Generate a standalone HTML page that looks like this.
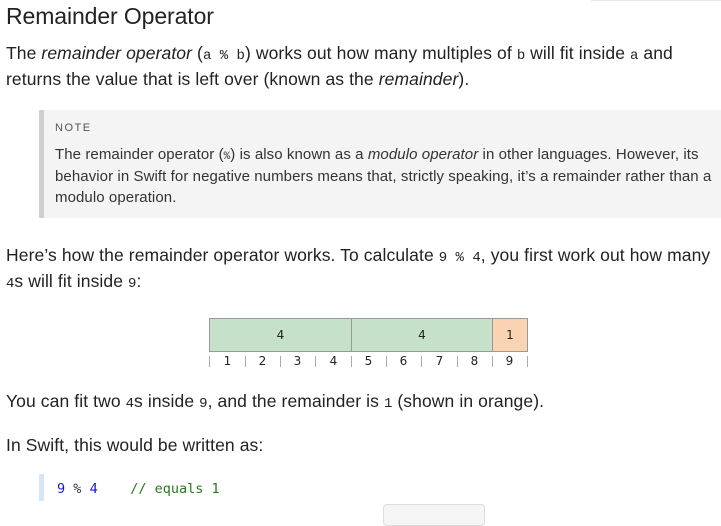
<!DOCTYPE html>
<html><head><meta charset="utf-8"><style>
body{margin:0;width:721px;height:512px;background:#fff;position:relative;overflow:hidden;font-family:"Liberation Sans",sans-serif;color:#222}
.l{position:absolute;white-space:nowrap;font-size:17.5px;letter-spacing:0.1px}
.n{position:absolute;white-space:nowrap;font-size:15px;letter-spacing:0.08px;color:#333}
code{font-family:"Liberation Mono",monospace;font-size:14px;letter-spacing:0}
.cell{position:absolute;top:318px;height:34px;box-sizing:border-box;border:1px solid #999;text-align:center;line-height:32px;font-size:12px;font-family:"DejaVu Sans",sans-serif}
.num{position:absolute;top:354px;font-size:12px;font-family:"DejaVu Sans",sans-serif;width:35px;text-align:center}
.tk{position:absolute;top:356px;width:1px;height:11px;background:#aaa}
</style></head><body>
<div style="position:absolute;left:591px;top:0;width:130px;height:1px;background:#e6e6e6"></div>
<div class="l" style="left:6px;top:3px;font-size:23px;letter-spacing:-0.1px">Remainder Operator</div>
<div class="l" style="left:6px;top:43px">The <i>remainder operator</i> (<code>a % b</code>) works out how many multiples of <code>b</code> will fit inside <code>a</code> and</div>
<div class="l" style="left:6px;top:69px">returns the value that is left over (known as the <i>remainder</i>).</div>
<div style="position:absolute;left:39px;top:110px;width:682px;height:108px;background:#f4f4f4;border-left:5px solid #cfcfcf;box-sizing:border-box"></div>
<div class="n" style="left:55px;top:122px;font-size:11px;letter-spacing:1.5px;color:#555">NOTE</div>
<div class="n" style="left:55px;top:146px">The remainder operator (<code style="font-size:11px">%</code>) is also known as a <i>modulo operator</i> in other languages. However, its</div>
<div class="n" style="left:55px;top:168px">behavior in Swift for negative numbers means that, strictly speaking, it’s a remainder rather than a</div>
<div class="n" style="left:55px;top:189px">modulo operation.</div>
<div class="l" style="left:6px;top:245px">Here’s how the remainder operator works. To calculate <code>9 % 4</code>, you first work out how many</div>
<div class="l" style="left:6px;top:271px"><code>4</code>s will fit inside <code>9</code>:</div>
<div class="cell" style="left:209px;width:143px;background:#c5e1c9">4</div>
<div class="cell" style="left:351px;width:142px;background:#c5e1c9">4</div>
<div class="cell" style="left:492px;width:36px;background:#fad4b2">1</div>
<div class="tk" style="left:209px"></div><div class="tk" style="left:245px"></div><div class="tk" style="left:280px"></div><div class="tk" style="left:315px"></div><div class="tk" style="left:351px"></div><div class="tk" style="left:386px"></div><div class="tk" style="left:421px"></div><div class="tk" style="left:457px"></div><div class="tk" style="left:492px"></div><div class="tk" style="left:527px"></div>
<div class="num" style="left:210px">1</div><div class="num" style="left:245px">2</div><div class="num" style="left:280px">3</div><div class="num" style="left:316px">4</div><div class="num" style="left:351px">5</div><div class="num" style="left:386px">6</div><div class="num" style="left:422px">7</div><div class="num" style="left:457px">8</div><div class="num" style="left:492px">9</div>
<div class="l" style="left:6px;top:391px">You can fit two <code>4</code>s inside <code>9</code>, and the remainder is <code>1</code> (shown in orange).</div>
<div class="l" style="left:6px;top:435px">In Swift, this would be written as:</div>
<div style="position:absolute;left:39px;top:474px;width:5px;height:27px;background:#d3e8f3"></div>
<div style="position:absolute;left:57px;top:481px;white-space:pre;font-family:'DejaVu Sans Mono',monospace;font-size:13.5px"><span style="color:#1a1acb">9</span> <span style="color:#333">%</span> <span style="color:#1a1acb">4</span>    <span style="color:#2a7a1e">// equals 1</span></div>
<div style="position:absolute;left:383px;top:504px;width:100px;height:20px;border:1px solid #ddd;border-radius:4px;background:#f5f5f5"></div>
</body></html>
